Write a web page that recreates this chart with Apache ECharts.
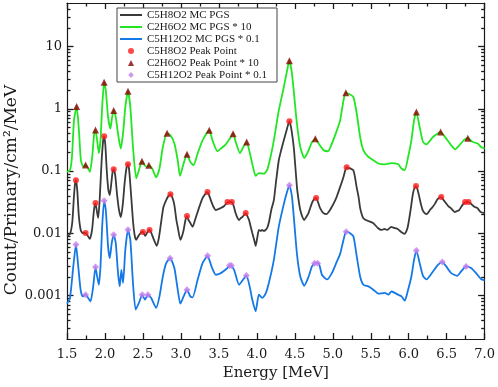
<!DOCTYPE html>
<html><head><meta charset="utf-8">
<script src="https://cdn.jsdelivr.net/npm/echarts@6/dist/echarts.min.js"></script>
<style>html,body{margin:0;padding:0;background:#fff}#c{width:498px;height:387px}</style>
</head><body><div id="c"></div>
<script>
// ---- data (Energy [MeV], Count/Primary/cm2/MeV) ----
const seriesNames = ['C5H8O2 MC PGS','C2H6O2 MC PGS * 10','C5H12O2 MC PGS * 0.1',
  'C5H8O2 Peak Point','C2H6O2 Peak Point * 10','C5H12O2 Peak Point * 0.1'];

const blackCurve = [[1.50,0.00905],[1.54,0.00974],[1.57,0.01517],[1.59,0.0367],[1.605,0.0615],[1.618,0.0713],[1.635,0.0493],[1.655,0.0196],[1.68,0.0113],[1.705,0.0101],[1.725,0.0101],[1.745,0.0101],[1.775,0.00905],[1.80,0.0081],[1.83,0.0113],[1.855,0.0236],[1.875,0.0305],[1.895,0.0219],[1.91,0.0176],[1.93,0.0341],[1.955,0.1383],[1.975,0.300],[1.99,0.3605],[2.005,0.2587],[2.025,0.0957],[2.045,0.0493],[2.063,0.0410],[2.085,0.0662],[2.10,0.0957],[2.115,0.1068],[2.135,0.0857],[2.16,0.0410],[2.185,0.0236],[2.21,0.01824],[2.235,0.0294],[2.26,0.0662],[2.285,0.115],[2.303,0.1284],[2.32,0.0993],[2.345,0.0395],[2.37,0.01517],[2.39,0.00939],[2.41,0.00781],[2.44,0.00905],[2.47,0.0101],[2.50,0.01049],[2.53,0.00905],[2.56,0.01049],[2.587,0.01129],[2.61,0.0101],[2.64,0.0081],[2.683,0.00627],[2.71,0.0084],[2.74,0.01517],[2.77,0.02636],[2.806,0.0341],[2.835,0.0395],[2.862,0.0425],[2.89,0.0367],[2.914,0.02837],[2.94,0.01633],[2.958,0.01262],[2.993,0.00781],[3.015,0.00905],[3.036,0.01129],[3.06,0.01633],[3.08,0.0189],[3.10,0.01633],[3.124,0.01461],[3.154,0.01262],[3.19,0.01694],[3.22,0.0219],[3.255,0.0294],[3.285,0.0367],[3.32,0.0425],[3.35,0.0458],[3.38,0.0381],[3.403,0.0317],[3.43,0.02636],[3.46,0.0236],[3.495,0.02448],[3.526,0.0254],[3.57,0.02735],[3.62,0.0317],[3.67,0.0317],[3.695,0.02735],[3.72,0.0211],[3.745,0.0176],[3.766,0.01633],[3.79,0.0176],[3.81,0.01824],[3.853,0.0211],[3.875,0.0189],[3.897,0.01633],[3.92,0.01262],[3.94,0.0101],[3.965,0.00781],[3.984,0.00627],[4.005,0.0084],[4.027,0.01129],[4.05,0.01088],[4.07,0.01129],[4.093,0.01088],[4.115,0.01129],[4.136,0.01215],[4.16,0.01517],[4.19,0.0236],[4.224,0.0341],[4.255,0.0713],[4.289,0.1489],[4.32,0.2152],[4.355,0.311],[4.398,0.4837],[4.428,0.6266],[4.445,0.540],[4.463,0.4024],[4.49,0.2152],[4.528,0.0551],[4.55,0.0341],[4.572,0.0236],[4.60,0.01824],[4.624,0.01633],[4.65,0.01824],[4.68,0.0211],[4.725,0.0305],[4.755,0.0354],[4.781,0.0367],[4.81,0.0305],[4.833,0.0254],[4.877,0.0211],[4.92,0.02036],[4.955,0.02275],[4.986,0.02636],[5.02,0.0317],[5.05,0.0381],[5.096,0.0551],[5.14,0.0796],[5.165,0.1030],[5.183,0.115],[5.205,0.1108],[5.227,0.1108],[5.25,0.1068],[5.27,0.103],[5.29,0.0826],[5.314,0.0551],[5.34,0.0381],[5.358,0.02636],[5.38,0.02036],[5.40,0.0176],[5.433,0.01633],[5.467,0.01574],[5.53,0.01461],[5.594,0.01215],[5.64,0.01129],[5.68,0.01171],[5.72,0.01129],[5.768,0.01262],[5.81,0.01215],[5.855,0.01171],[5.90,0.01049],[5.943,0.00974],[5.965,0.01049],[5.987,0.01262],[6.01,0.01824],[6.03,0.02636],[6.05,0.0395],[6.066,0.0493],[6.082,0.0551],[6.096,0.0572],[6.115,0.0511],[6.14,0.0381],[6.16,0.0294],[6.183,0.0236],[6.21,0.0211],[6.24,0.02036],[6.28,0.0236],[6.315,0.02636],[6.35,0.0305],[6.38,0.0354],[6.424,0.0381],[6.46,0.0341],[6.49,0.0305],[6.52,0.02735],[6.555,0.0254],[6.607,0.0219],[6.635,0.02275],[6.664,0.0236],[6.707,0.02837],[6.751,0.0317],[6.78,0.0317],[6.81,0.0305],[6.838,0.02837],[6.87,0.02636],[6.904,0.0254],[6.947,0.0219],[7.0,0.0211]];

const greenCurve = [[1.50,0.097],[1.539,0.103],[1.565,0.167],[1.592,0.650],[1.627,1.088],[1.657,0.4495],[1.683,0.1489],[1.714,0.1165],[1.745,0.125],[1.779,0.1097],[1.801,0.097],[1.832,0.168],[1.858,0.398],[1.875,0.454],[1.897,0.311],[1.919,0.1937],[1.941,0.311],[1.963,1.061],[1.989,2.67],[2.011,1.963],[2.041,0.734],[2.072,0.479],[2.094,0.734],[2.115,0.939],[2.142,0.734],[2.172,0.398],[2.207,0.229],[2.238,0.398],[2.268,1.061],[2.303,1.91],[2.334,1.061],[2.369,0.243],[2.412,0.076],[2.447,0.103],[2.487,0.1435],[2.521,0.1238],[2.552,0.1165],[2.578,0.1238],[2.622,0.1097],[2.674,0.0788],[2.718,0.1097],[2.762,0.243],[2.818,0.405],[2.862,0.374],[2.914,0.276],[2.958,0.1489],[2.988,0.0836],[3.036,0.132],[3.080,0.1856],[3.124,0.14],[3.167,0.1238],[3.220,0.1906],[3.285,0.311],[3.373,0.4495],[3.416,0.311],[3.481,0.2075],[3.526,0.229],[3.591,0.268],[3.643,0.331],[3.687,0.398],[3.722,0.292],[3.778,0.1937],[3.822,0.243],[3.866,0.292],[3.909,0.1906],[3.949,0.1165],[3.984,0.0836],[4.027,0.0927],[4.093,0.0905],[4.136,0.104],[4.180,0.168],[4.224,0.311],[4.289,0.939],[4.355,2.22],[4.398,4.10],[4.428,5.93],[4.463,3.63],[4.528,0.575],[4.572,0.243],[4.625,0.162],[4.682,0.2152],[4.726,0.292],[4.770,0.331],[4.813,0.276],[4.879,0.2152],[4.936,0.2075],[4.988,0.276],[5.054,0.4495],[5.097,0.650],[5.141,1.358],[5.172,1.80],[5.228,1.693],[5.272,1.535],[5.316,0.832],[5.360,0.352],[5.403,0.2152],[5.469,0.168],[5.534,0.1489],[5.600,0.132],[5.686,0.128],[5.773,0.134],[5.861,0.128],[5.904,0.1097],[5.948,0.103],[5.992,0.168],[6.035,0.311],[6.070,0.650],[6.101,0.883],[6.144,0.508],[6.188,0.292],[6.232,0.268],[6.319,0.352],[6.385,0.405],[6.420,0.4225],[6.494,0.331],[6.559,0.2587],[6.612,0.223],[6.668,0.2587],[6.725,0.314],[6.778,0.336],[6.843,0.292],[6.909,0.276],[6.952,0.243],[7.0,0.229]];

const blueCurve = [[1.50,0.00074],[1.539,0.000913],[1.583,0.00293],[1.618,0.00657],[1.648,0.00293],[1.679,0.001238],[1.705,0.000968],[1.745,0.00103],[1.779,0.000913],[1.810,0.000806],[1.845,0.0014],[1.875,0.00286],[1.897,0.00202],[1.919,0.001489],[1.941,0.00293],[1.963,0.01276],[1.989,0.0332],[2.011,0.0236],[2.041,0.0061],[2.063,0.00398],[2.089,0.00692],[2.115,0.00948],[2.142,0.00692],[2.172,0.00229],[2.194,0.0014],[2.216,0.002587],[2.238,0.00159],[2.268,0.0054],[2.303,0.0114],[2.334,0.00781],[2.369,0.00159],[2.404,0.000593],[2.447,0.00076],[2.491,0.00103],[2.526,0.000857],[2.565,0.00103],[2.609,0.000913],[2.674,0.000632],[2.718,0.000968],[2.762,0.00202],[2.806,0.00331],[2.858,0.00398],[2.914,0.00276],[2.958,0.001238],[2.993,0.00074],[3.036,0.000968],[3.080,0.001238],[3.124,0.000968],[3.154,0.000935],[3.220,0.00179],[3.285,0.00331],[3.351,0.00433],[3.403,0.00293],[3.46,0.002152],[3.526,0.00229],[3.591,0.00261],[3.652,0.00303],[3.70,0.002587],[3.766,0.001489],[3.818,0.00179],[3.862,0.0021],[3.905,0.0014],[3.940,0.000857],[3.984,0.000558],[4.027,0.00103],[4.071,0.000913],[4.115,0.00107],[4.158,0.00159],[4.224,0.00374],[4.289,0.01276],[4.355,0.0294],[4.398,0.0463],[4.428,0.0593],[4.463,0.0385],[4.528,0.00466],[4.572,0.00202],[4.625,0.001435],[4.682,0.00202],[4.726,0.00293],[4.770,0.00331],[4.813,0.00331],[4.857,0.002152],[4.923,0.00181],[4.988,0.00229],[5.054,0.00352],[5.097,0.00466],[5.141,0.00781],[5.176,0.0106],[5.228,0.01],[5.272,0.00883],[5.316,0.00422],[5.360,0.00202],[5.403,0.001489],[5.469,0.0014],[5.534,0.001238],[5.600,0.00107],[5.686,0.0011],[5.730,0.00103],[5.773,0.00116],[5.817,0.0011],[5.861,0.00103],[5.904,0.000968],[5.948,0.000826],[5.992,0.001238],[6.035,0.00202],[6.070,0.00374],[6.101,0.00527],[6.144,0.00331],[6.188,0.00207],[6.232,0.00181],[6.319,0.00243],[6.385,0.00311],[6.442,0.00344],[6.494,0.00293],[6.559,0.00229],[6.638,0.00207],[6.690,0.00243],[6.755,0.00293],[6.821,0.00276],[6.887,0.00229],[6.952,0.00184],[7.0,0.00175]];

const blackPeaks = [[1.618,0.0713],[1.745,0.0101],[1.875,0.0305],[1.99,0.3605],[2.115,0.1068],[2.303,0.1284],[2.50,0.0105],[2.587,0.0113],[2.862,0.0425],[3.08,0.0189],[3.35,0.0458],[3.613,0.0317],[3.67,0.0317],[3.853,0.0211],[4.428,0.627],[4.781,0.0367],[5.183,0.115],[6.096,0.0572],[6.428,0.0381],[6.742,0.0317],[6.787,0.0317]];
const greenPeaks = [[1.627,1.088],[1.745,0.125],[1.875,0.454],[1.989,2.67],[2.115,0.939],[2.303,1.91],[2.487,0.1435],[2.578,0.1238],[2.818,0.405],[3.08,0.1856],[3.373,0.4495],[3.687,0.398],[3.866,0.292],[4.428,5.93],[4.77,0.331],[5.172,1.80],[6.101,0.883],[6.42,0.4225],[6.778,0.336]];
const bluePeaks = [[1.618,0.00657],[1.745,0.00103],[1.875,0.00286],[1.989,0.0332],[2.115,0.00948],[2.303,0.0114],[2.491,0.00103],[2.565,0.00103],[2.858,0.00398],[3.08,0.001238],[3.351,0.00433],[3.64,0.00303],[3.665,0.00303],[3.862,0.0021],[4.428,0.0593],[4.76,0.00331],[4.80,0.00331],[5.176,0.0106],[6.101,0.00527],[6.442,0.00344],[6.755,0.00293]];

const xRange = [1.5, 7.0];
const xInterval = 0.5;
const yRange = [2e-4, 50];
const yMajorTicks = [0.001, 0.01, 0.1, 1, 10];
const yMinorTicks = [];
for (let e = -4; e <= 1; e++) for (let k = 2; k <= 9; k++) {
  const v = +(k * Math.pow(10, e)).toPrecision(2);
  if (v > yRange[0] && v < yRange[1]) yMinorTicks.push(v);
}

// ---- chart ----
const AX = '#1a1a1a';
const FONT = 'DejaVu Serif';
const TW = 1.3;
const chart = echarts.init(document.getElementById('c'), null, {renderer: 'canvas'});

function xAx(pos, labels) {
  return {
    type: 'value', position: pos, min: xRange[0], max: xRange[1], interval: xInterval,
    axisLine: {show: true, onZero: false, lineStyle: {color: AX, width: 1.2}},
    axisTick: {show: true, inside: true, length: 6, lineStyle: {color: AX, width: TW}},
    minorTick: {show: true, splitNumber: 2, length: 3.5, lineStyle: {color: AX, width: TW}},
    axisLabel: {show: labels, margin: 9, color: AX, fontFamily: FONT, fontSize: 13,
      formatter: v => v.toFixed(1)},
    splitLine: {show: false}, minorSplitLine: {show: false},
    name: labels ? 'Energy [MeV]' : '', nameLocation: 'middle', nameGap: 27,
    nameTextStyle: {fontFamily: FONT, fontSize: 15, color: AX}
  };
}
function yAx(pos, minor, labels) {
  return {
    type: 'log', position: pos, min: yRange[0], max: yRange[1], logBase: 10,
    axisLine: {show: !minor, onZero: false, lineStyle: {color: AX, width: 1.2}},
    axisTick: {show: true, inside: true, length: minor ? 3.5 : 6.5, lineStyle: {color: AX, width: TW},
      customValues: minor ? yMinorTicks : yMajorTicks},
    axisLabel: {show: labels, margin: 5, color: AX, fontFamily: FONT, fontSize: 13,
      customValues: yMajorTicks,
      formatter: v => (v >= 1 ? String(Math.round(v)) : String(+v.toPrecision(1)))},
    splitLine: {show: false}
  };
}

const lineS = (name, data, color) => ({
  name, type: 'line', data, xAxisIndex: 0, yAxisIndex: 0, symbol: 'none', smooth: 0.2,
  color, lineStyle: {color, width: 1.8}, z: 2, silent: true
});
const dotS = (name, data, color, symbol, size) => ({
  name, type: 'scatter', data, xAxisIndex: 0, yAxisIndex: 0, symbol, symbolSize: size,
  color, itemStyle: {color}, z: 5, silent: true
});

const LINE_ICON = 'path://M0,0H22V2H0Z';
const legendIcons = [LINE_ICON, LINE_ICON, LINE_ICON, 'circle',
  'path://M3,0L6,6L0,6Z', 'path://M3,0L6,3.2L3,6.4L0,3.2Z'];

chart.setOption({
  animation: false,
  backgroundColor: '#fff',
  grid: {left: 67, right: 11, top: 3, bottom: 48, containLabel: false},
  legend: {
    orient: 'vertical', left: 117, top: 8, itemWidth: 22, itemHeight: 6, itemGap: 0,
    symbolKeepAspect: true,
    padding: [1, 4, 1, 3], borderColor: '#444', borderWidth: 1, backgroundColor: '#fff',
    textStyle: {fontFamily: 'Liberation Serif', fontSize: 11, color: AX, lineHeight: 12, width: 126},
    data: seriesNames.map((n, i) => ({name: n, icon: legendIcons[i]}))
  },
  graphic: [{
    type: 'text', x: 12, y: 190, rotation: Math.PI / 2, silent: true,
    style: {text: 'Count/Primary/cm\u00B2/MeV', align: 'center', verticalAlign: 'middle',
      font: '17px "DejaVu Serif"', fill: AX}
  }],
  xAxis: [xAx('bottom', true), xAx('top', false)],
  yAxis: [yAx('left', false, true), yAx('left', true, false), yAx('right', false, false), yAx('right', true, false)],
  series: [
    lineS(seriesNames[0], blackCurve, '#3a3a3a'),
    lineS(seriesNames[1], greenCurve, '#22e622'),
    lineS(seriesNames[2], blueCurve, '#1479e6'),
    dotS(seriesNames[3], blackPeaks, '#ff1a1a', 'circle', 6),
    dotS(seriesNames[4], greenPeaks, '#8b0000', 'triangle', 7),
    dotS(seriesNames[5], bluePeaks, '#c77dee', 'diamond', 7)
  ]
});
</script></body></html>
